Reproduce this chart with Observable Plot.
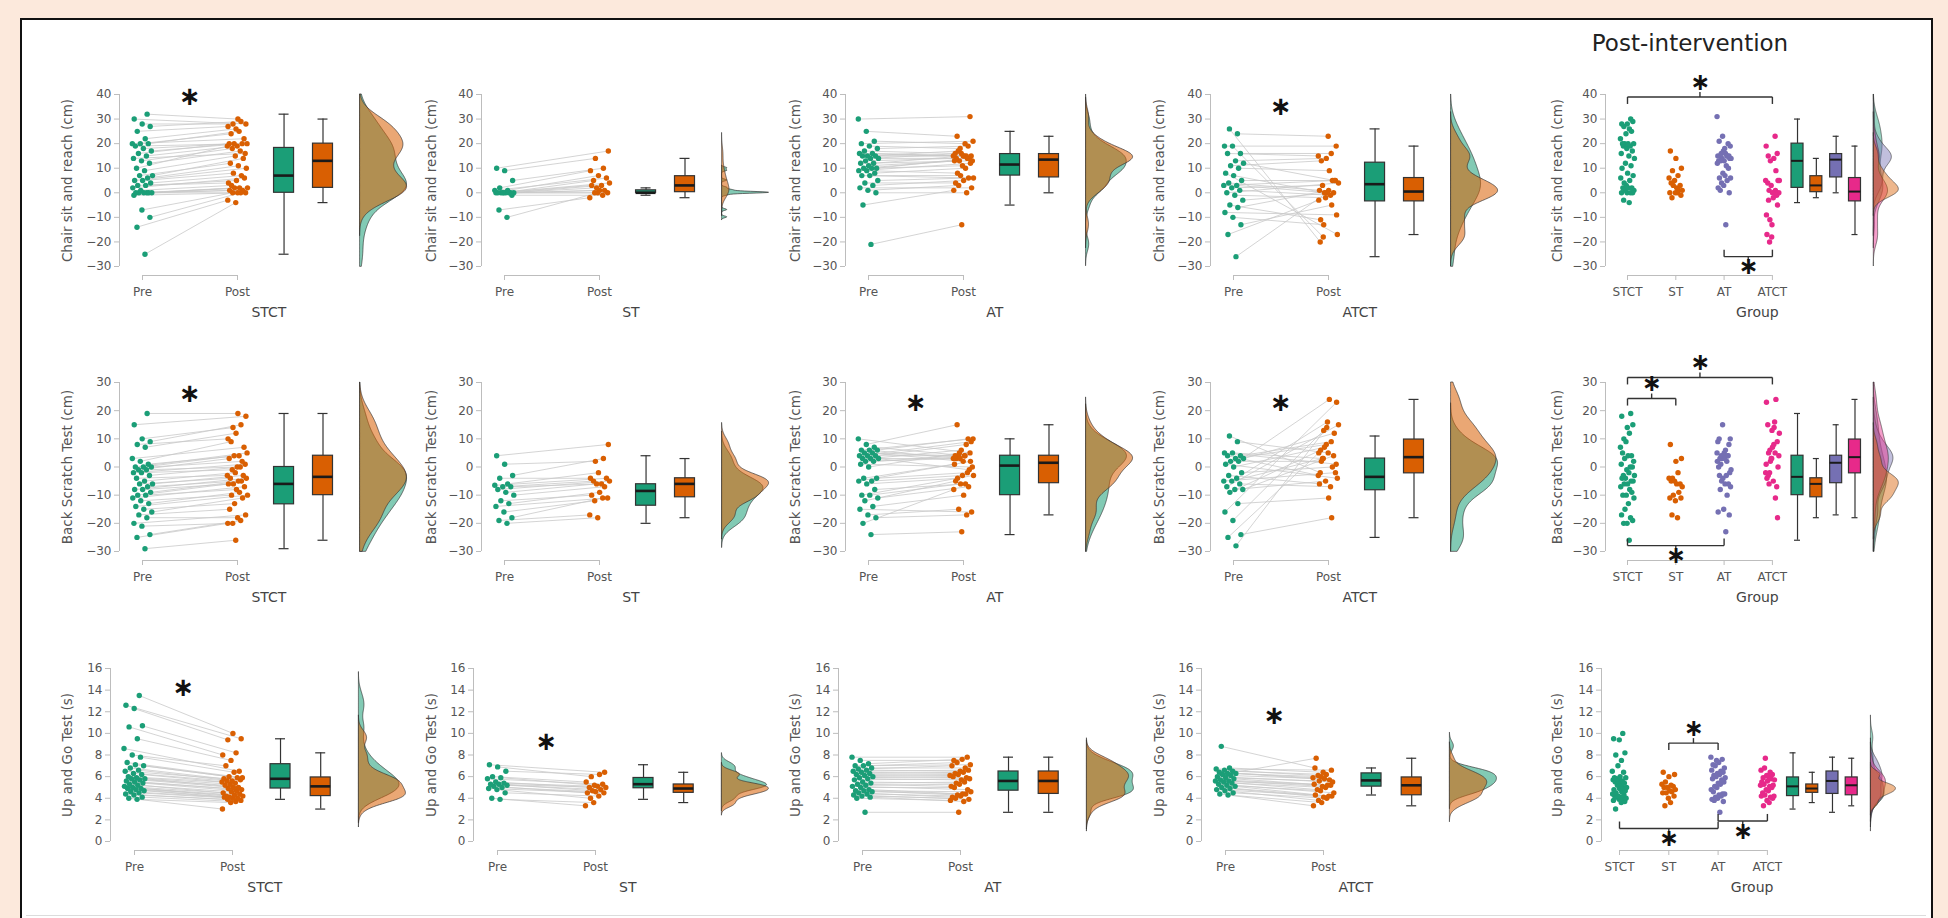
<!DOCTYPE html>
<html><head><meta charset="utf-8">
<script src="https://cdn.jsdelivr.net/npm/d3@7"></script>
<script src="https://cdn.jsdelivr.net/npm/@observablehq/plot@0.6"></script>
<style>
html,body{margin:0;padding:0;}
body{width:1948px;height:918px;background:#fce9dc;position:relative;overflow:hidden;font-family:"DejaVu Sans",sans-serif;}
#frame{position:absolute;left:20px;top:18px;width:1909px;height:910px;background:#fff;border:2px solid #111;border-bottom:none;}
#bottomline{position:absolute;left:26px;top:915px;width:1900px;height:1px;background:#dcdcdc;}
.panel{position:absolute;}
.panel svg{overflow:visible;max-width:none !important;}
#title{position:absolute;left:1570px;top:29px;width:240px;text-align:center;font-size:23px;line-height:28px;color:#222;}
</style></head><body>
<div id="frame"></div>
<div id="bottomline"></div>
<div id="title">Post-intervention</div>
<script>
// ---------- categories / labels ----------
const groups = ["STCT", "ST", "AT", "ATCT"];
const phases = ["Pre", "Post"];
const measureLabels = ["Chair sit and reach (cm)", "Back Scratch Test (cm)", "Up and Go Test (s)"];
const measureDomains = [[-30, 40], [-30, 30], [0, 16]];
const chairTicks = [-30, -20, -10, 0, 10, 20, 30, 40];
const backTicks = [-30, -20, -10, 0, 10, 20, 30];
const tugTicks = [0, 2, 4, 6, 8, 10, 12, 14, 16];
const sigMark = "∗";

// ---------- Chair sit and reach (cm), paired by subject ----------
const chairPreSTCT = [-25,-14,-10,-7,-1,0,0,0,0,0,0,1,2,3,3,4,5,5,6,7,7,9,10,12,13,14,15,16,17,18,19,20,20,20,22,25,27,28,30,32];
const chairPostSTCT = [-4,-3,0,0,0,0,1,1,2,2,2,3,6,5,4,7,8,10,11,12,14,15,19,17,18,16,19,20,20,20,20,25,24,22,26,27,29,28,28,30];
const chairPreST = [-10,-7,-1,0,0,0,0,0,0,0,0,0,1,1,2,5,9,10];
const chairPostST = [0,-2,-1,0,0,1,3,1,2,4,3,5,6,7,9,10,14,17];
const chairPreAT = [-21,-5,0,1,2,3,4,5,7,7,8,9,9,10,10,10,11,12,12,13,14,14,15,15,15,16,16,17,18,19,20,21,25,30];
const chairPostAT = [-13,1,0,3,2,5,4,6,7,6,10,8,12,11,13,14,13,13,15,14,14,16,15,15,17,15,15,16,19,18,21,20,23,31];
const chairPreATCT = [-26,-17,-13,-10,-8,-6,-5,-3,-1,0,1,2,3,3,4,5,7,8,10,11,12,13,16,16,19,19,24,26];
const chairPostATCT = [0,-3,-5,-13,-9,1,-11,0,-2,4,-1,3,5,0,1,5,0,-17,9,13,5,14,15,16,-18,19,23,-20];

// ---------- Back Scratch Test (cm) ----------
const backPreSTCT = [-29,-25,-24,-21,-20,-18,-17,-16,-15,-14,-13,-12,-11,-10,-10,-9,-8,-8,-7,-6,-6,-5,-4,-3,-2,-2,-1,-1,0,0,0,1,2,3,7,8,9,10,15,19];
const backPostSTCT = [-26,-20,-19,-20,-17,-18,-15,-11,-13,-10,-9,-10,-7,-8,-6,-5,-6,-4,-5,-4,-3,-2,-3,0,-1,1,0,3,2,4,5,4,9,7,12,10,15,14,18,19];
const backPreST = [-20,-19,-18,-16,-14,-13,-12,-10,-9,-8,-7,-7,-6.5,-6,-4,-3,1,4];
const backPostST = [-18,-17,-11,-12,-11,-9,-10,-7,-6,-5,-6,-5,-4,-2,-4,3,2,8];
const backPreAT = [-24,-20,-18,-17,-15,-14,-12,-11,-10,-10,-8,-6,-5,-5,-4,-4,0,1,2,2,3,3,3,4,4,4,5,5,6,6,6,7,8,10];
const backPostAT = [-23,-8,-17,-15,-16,-10,-5,-7,-6,-3,-6,-4,2,-3,1,-2,5,0,4,3,-1,6,3,8,4,9,2,4,10,3,10,4,15,5];
const backPreATCT = [-28,-25,-24,-19,-16,-13,-9,-8,-8,-7,-6,-5,-5,-4,-3,-2,0,1,2,2,3,3,4,4,5,5,9,11];
const backPostATCT = [14,5,-18,13,23,-11,6,4,-5,15,-7,3,-2,16,-6,0,7,-4,24,2,12,8,-3,9,3,1,5,-2];

// ---------- Up and Go Test (s) ----------
const tugPreSTCT = [3.9,4.0,4.1,4.3,4.4,4.5,4.6,4.7,4.8,4.9,4.9,5.0,5.1,5.2,5.3,5.4,5.5,5.6,5.7,5.8,5.8,5.9,6.0,6.2,6.3,6.5,6.6,6.8,7.0,7.1,7.3,7.8,8.0,8.6,9.5,10.6,10.7,12.3,12.6,13.5];
const tugPostSTCT = [3.6,3.0,3.7,3.9,3.8,4.0,4.1,4.0,4.1,4.2,4.3,4.2,4.4,4.6,4.5,4.7,4.9,4.8,5.0,5.2,5.0,5.3,5.5,5.4,5.6,5.7,5.6,5.8,5.9,6.0,5.9,6.4,7.0,6.5,7.5,8.0,8.2,9.4,9.5,10.0];
const tugPreST = [3.9,4.0,4.5,4.8,4.9,5.0,5.1,5.2,5.3,5.3,5.4,5.5,5.8,5.9,6.0,6.5,6.9,7.1];
const tugPostST = [3.6,3.3,4.2,4.0,4.5,4.6,4.5,4.8,4.7,5.0,5.1,5.0,5.3,5.2,5.5,6.2,6.0,6.4];
const tugPreAT = [2.7,4.0,4.1,4.2,4.3,4.4,4.5,4.6,4.7,4.7,4.8,5.0,5.1,5.2,5.3,5.4,5.5,5.7,5.8,5.9,6.0,6.1,6.2,6.3,6.4,6.5,6.6,6.7,6.8,7.0,7.0,7.2,7.5,7.8];
const tugPostAT = [2.7,3.8,3.7,4.0,3.9,4.2,4.1,4.4,4.3,4.6,4.4,5.0,4.8,5.3,5.1,5.5,5.4,5.8,5.7,6.0,5.9,6.2,6.1,6.4,6.3,6.6,6.5,7.0,6.8,7.3,7.1,7.6,7.5,7.8];
const tugPreATCT = [4.3,4.4,4.5,4.7,4.8,4.9,5.0,5.1,5.2,5.3,5.4,5.5,5.6,5.6,5.7,5.8,5.9,6.0,6.1,6.2,6.3,6.3,6.4,6.5,6.6,6.7,6.8,8.8];
const tugPostATCT = [3.6,3.3,4.0,3.8,4.2,4.1,4.3,4.2,4.7,4.5,5.0,4.8,5.2,5.1,5.3,5.2,5.6,5.5,5.8,7.7,5.7,6.0,5.9,6.2,6.1,6.6,6.4,6.8];

// ---------- significance annotations (data units) ----------
const pairedStars = [[39, null, null, 35], [26, null, 23, 23], [14.2, 9.2, null, 11.6]];
// [fromGroup, toGroup, level, direction(+1 star above, -1 star below)]
const groupBrackets = [
  [[0, 3, 39, 1], [2, 3, -26, -1]],
  [[0, 3, 31.8, 1], [0, 1, 24.3, 1], [0, 2, -27.9, -1]],
  [[1, 2, 9.1, 1], [0, 2, 1.2, -1], [2, 3, 1.9, -1]]
];

const preData = [
  [chairPreSTCT, chairPreST, chairPreAT, chairPreATCT],
  [backPreSTCT, backPreST, backPreAT, backPreATCT],
  [tugPreSTCT, tugPreST, tugPreAT, tugPreATCT]
];
const postData = [
  [chairPostSTCT, chairPostST, chairPostAT, chairPostATCT],
  [backPostSTCT, backPostST, backPostAT, backPostATCT],
  [tugPostSTCT, tugPostST, tugPostAT, tugPostATCT]
];
const measureTicks = [chairTicks, backTicks, tugTicks];

// ---------- styling / layout ----------
const GREEN = "#1b9e77", ORANGE = "#d95f02", PURPLE = "#7570b3", PINK = "#e7298a";
const groupColors = [GREEN, ORANGE, PURPLE, PINK];
const AXIS = "#bdbdbd", TXT = "#555";
const FONT = "'DejaVu Sans', sans-serif";
const rowTop = [94, 382, 668], rowBot = [266, 551, 841];
const colPre = [[142, 504, 868, 1233], [142, 504, 868, 1233], [134, 497, 862, 1225]];
const colStep = [95, 95, 98];
const axisGap = [23, 23, 24];
const titleX = [67, 431, 795, 1159, 1557];
const grpX0 = [1627, 1627, 1619], grpStep = [48.3, 48.3, 49.3], grpAxis = [1605, 1605, 1601];

function jit(i, amp) { const f = ((i + 1) * 0.6180339887) % 1; return (f - 0.5) * 2 * amp; }

function boxStats(values) {
  const s = values.slice().sort(d3.ascending);
  const q1 = d3.quantile(s, 0.25), med = d3.quantile(s, 0.5), q3 = d3.quantile(s, 0.75);
  const iqr = q3 - q1;
  const lo = d3.min(s.filter(v => v >= q1 - 1.5 * iqr));
  const hi = d3.max(s.filter(v => v <= q3 + 1.5 * iqr));
  return {q1, med, q3, lo, hi};
}

function kde(values, lo, hi) {
  const s = values.slice().sort(d3.ascending);
  const n = s.length;
  const sd = d3.deviation(s);
  const iqr = d3.quantile(s, 0.75) - d3.quantile(s, 0.25);
  let spread = Math.min(sd, iqr / 1.34);
  if (!(spread > 0)) spread = sd;
  const bw = 0.9 * spread * Math.pow(n, -0.2);
  const a = Math.max(lo, s[0] - 3 * bw), b = Math.min(hi, s[n - 1] + 3 * bw);
  const N = 220;
  return d3.range(N + 1).map(k => {
    const y = a + (b - a) * k / N;
    const d = d3.sum(s, v => Math.exp(-0.5 * ((y - v) / bw) ** 2)) / (n * bw * Math.sqrt(2 * Math.PI));
    return {y, d};
  });
}

function boxMarks(st, x, w, cw, fill, medW) {
  return [
    Plot.ruleX([st], {x: () => x, y1: "lo", y2: "q1", stroke: "#333", strokeWidth: 1.2}),
    Plot.ruleX([st], {x: () => x, y1: "q3", y2: "hi", stroke: "#333", strokeWidth: 1.2}),
    Plot.ruleY([st.lo, st.hi], {x1: () => x - cw / 2, x2: () => x + cw / 2, stroke: "#333", strokeWidth: 1.2}),
    Plot.rect([st], {x1: () => x - w / 2, x2: () => x + w / 2, y1: "q1", y2: "q3", fill, stroke: "#333", strokeWidth: 1.2}),
    Plot.ruleY([st.med], {x1: () => x - w / 2, x2: () => x + w / 2, stroke: "#1a1a1a", strokeWidth: medW})
  ];
}

function mount(svg, left, top) {
  const div = document.createElement("div");
  div.className = "panel";
  div.style.left = left + "px";
  div.style.top = top + "px";
  div.appendChild(svg);
  document.body.appendChild(div);
}

const ML = 75, MT = 45, MB = 70, GAP = 9;

function pairedPanel(r, g) {
  const pre = preData[r][g], post = postData[r][g];
  const [y0, y1] = measureDomains[r];
  const preX = colPre[r][g], step = colStep[r];
  const axisX = preX - axisGap[r];
  const IH = rowBot[r] - rowTop[r];
  const W = 390, H = MT + IH + GAP + MB;
  const off = preX - axisX;
  const xr = [ML + off, ML + off + step];
  const axisVal = -off / step;
  const subj = pre.map((v, i) => ({pre: v, post: post[i], xa: jit(i, 0.11), xb: 1 + jit(i + 11, 0.11)}));
  const bPre = 1.49, bPost = 1.90, dBase = 2.29, dMax = 47 / step, bw = 20 / step, cw = 10 / step;
  const dPre = kde(pre, y0, y1), dPost = kde(post, y0, y1);
  const k = dMax / d3.max([...dPre, ...dPost], d => d.d);
  const star = pairedStars[r][g];
  const svg = Plot.plot({
    width: W, height: H, marginLeft: ML, marginRight: 0, marginTop: MT, marginBottom: MB,
    style: {background: "none", overflow: "visible", fontFamily: FONT},
    x: {type: "linear", domain: [0, 1], range: xr, axis: null},
    y: {type: "linear", domain: [y0, y1], range: [MT + IH, MT], axis: null},
    marks: [
      Plot.ruleX([axisVal], {y1: () => y0, y2: () => y1, stroke: AXIS}),
      Plot.axisY({ticks: measureTicks[r], tickFormat: d3.format("d"), tickSize: 5, tickPadding: 3, fontSize: 12, stroke: AXIS, fill: TXT, label: null}),
      Plot.ruleY([y0], {x1: () => 0, x2: () => 1, dy: GAP, stroke: AXIS}),
      Plot.axisX({ticks: [0, 1], tickFormat: i => phases[i], tickSize: 5, tickPadding: 7, fontSize: 12, stroke: AXIS, fill: TXT, label: null}),
      Plot.link(subj, {x1: "xa", y1: "pre", x2: "xb", y2: "post", stroke: "#c9c9c9", strokeWidth: 0.8}),
      Plot.dot(subj, {x: "xa", y: "pre", r: 2.7, fill: GREEN}),
      Plot.dot(subj, {x: "xb", y: "post", r: 2.7, fill: ORANGE}),
      ...boxMarks(boxStats(pre), bPre, bw, cw, GREEN, 2.6),
      ...boxMarks(boxStats(post), bPost, bw, cw, ORANGE, 2.6),
      Plot.areaX(dPre, {y: "y", x1: () => dBase, x2: d => dBase + d.d * k, fill: GREEN, fillOpacity: 0.55, stroke: "#333", strokeWidth: 0.7}),
      Plot.areaX(dPost, {y: "y", x1: () => dBase, x2: d => dBase + d.d * k, fill: ORANGE, fillOpacity: 0.55, stroke: "#333", strokeWidth: 0.7}),
      Plot.text([measureLabels[r]], {frameAnchor: "left", textAnchor: "middle", y: () => (y0 + y1) / 2, rotate: -90, dx: titleX[g] - axisX, fontSize: 13.5, fill: TXT}),
      Plot.text([groups[g]], {x: () => 1.33, frameAnchor: "bottom", dy: 41, fontSize: 14, fill: "#444"}),
      star == null ? null : Plot.text([sigMark], {x: () => 0.5, y: () => star, fontSize: 26, fontWeight: "bold", fill: "#111"})
    ]
  });
  mount(svg, axisX - ML, rowTop[r] - MT);
}

function groupPanel(r) {
  const [y0, y1] = measureDomains[r];
  const x0 = grpX0[r], step = grpStep[r], axisX = grpAxis[r];
  const IH = rowBot[r] - rowTop[r];
  const W = 400, H = MT + IH + GAP + MB;
  const off = x0 - axisX;
  const xr = [ML + off, ML + off + 3 * step];
  const axisVal = -off / step;
  const u = (y1 - y0) / IH;
  const pts = groups.flatMap((gname, gi) => postData[r][gi].map((v, i) => ({g: gi, v, x: gi + jit(i, 0.15)})));
  const boxX = [3.52, 3.91, 4.32, 4.71], dBase = 5.1, dMax = 25 / step, bw = 12 / step, cw = 6 / step;
  const dens = groups.map((gname, gi) => kde(postData[r][gi], y0, y1));
  const k = dMax / d3.max(dens.flat(), d => d.d);
  const segs = [], stars = [];
  for (const [a, b, y, dir] of groupBrackets[r]) {
    const t = 7 * u * dir, c = 5 * u * dir, mid = (a + b) / 2;
    segs.push({x1: a, y1: y - t, x2: a, y2: y}, {x1: a, y1: y, x2: b, y2: y},
              {x1: b, y1: y, x2: b, y2: y - t}, {x1: mid, y1: y, x2: mid, y2: y + c});
    stars.push({x: mid, y: y + (dir > 0 ? 15 : 10) * u * dir});
  }
  const densOrder = [0, 2, 3, 1];
  const svg = Plot.plot({
    width: W, height: H, marginLeft: ML, marginRight: 0, marginTop: MT, marginBottom: MB,
    style: {background: "none", overflow: "visible", fontFamily: FONT},
    x: {type: "linear", domain: [0, 3], range: xr, axis: null},
    y: {type: "linear", domain: [y0, y1], range: [MT + IH, MT], axis: null},
    marks: [
      Plot.ruleX([axisVal], {y1: () => y0, y2: () => y1, stroke: AXIS}),
      Plot.axisY({ticks: measureTicks[r], tickFormat: d3.format("d"), tickSize: 5, tickPadding: 3, fontSize: 12, stroke: AXIS, fill: TXT, label: null}),
      Plot.ruleY([y0], {x1: () => 0, x2: () => 3, dy: GAP, stroke: AXIS}),
      Plot.axisX({ticks: [0, 1, 2, 3], tickFormat: i => groups[i], tickSize: 5, tickPadding: 7, fontSize: 12, stroke: AXIS, fill: TXT, label: null}),
      Plot.dot(pts, {x: "x", y: "v", r: 2.7, fill: d => groupColors[d.g]}),
      ...groups.flatMap((gname, gi) => boxMarks(boxStats(postData[r][gi]), boxX[gi], bw, cw, groupColors[gi], 2)),
      ...densOrder.map(gi => Plot.areaX(dens[gi], {y: "y", x1: () => dBase, x2: d => dBase + d.d * k, fill: groupColors[gi], fillOpacity: 0.45, stroke: "#333", strokeWidth: 0.6})),
      Plot.link(segs, {x1: "x1", y1: "y1", x2: "x2", y2: "y2", stroke: "#333", strokeWidth: 1.4}),
      Plot.text(stars, {x: "x", y: "y", text: () => sigMark, fontSize: 24, fontWeight: "bold", fill: "#111"}),
      Plot.text([measureLabels[r]], {frameAnchor: "left", textAnchor: "middle", y: () => (y0 + y1) / 2, rotate: -90, dx: titleX[4] - axisX, fontSize: 13.5, fill: TXT}),
      Plot.text(["Group"], {x: () => 2.69, frameAnchor: "bottom", dy: 41, fontSize: 14, fill: "#444"})
    ]
  });
  mount(svg, axisX - ML, rowTop[r] - MT);
}

for (let r = 0; r < 3; r++) {
  for (let g = 0; g < 4; g++) pairedPanel(r, g);
  groupPanel(r);
}
</script>
</body></html>
